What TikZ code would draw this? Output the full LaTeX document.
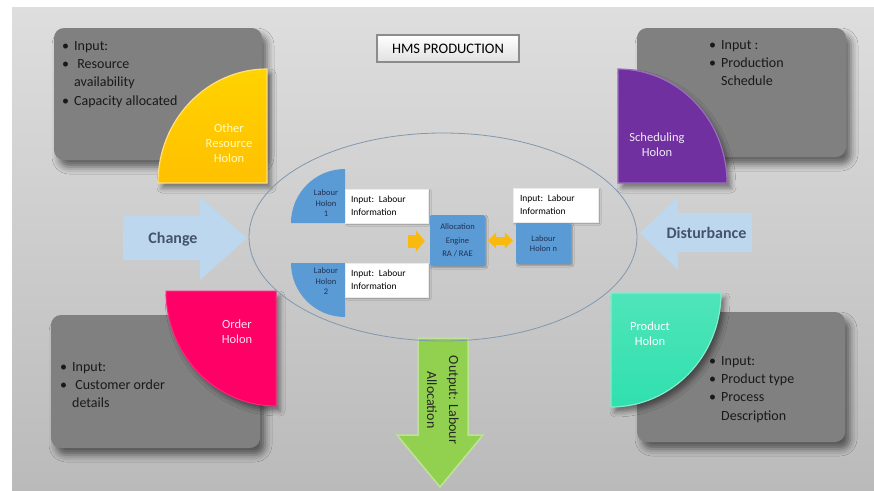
\documentclass[tikz,border=0pt]{standalone}
\usepackage{fontspec}
\setmainfont{Carlito}
\usetikzlibrary{arrows.meta,shadows.blur}

\definecolor{boxgray}{HTML}{808080}
\definecolor{holonyellow}{HTML}{FFC000}
\definecolor{holonpurple}{HTML}{7030A0}
\definecolor{holonpink}{HTML}{FF0066}
\definecolor{holonteal}{HTML}{30E0AE}
\definecolor{labourblue}{HTML}{5B9BD5}
\definecolor{labourtext}{HTML}{1F3050}
\definecolor{arrowblue}{HTML}{BDD7EE}
\definecolor{outgreen}{HTML}{92D050}
\definecolor{slatetext}{HTML}{44546A}
\definecolor{ringline}{HTML}{8397AE}
\definecolor{engineyellow}{HTML}{F8BA10}

\newcommand{\bul}{\makebox[12pt][l]{\textbullet}}
\newcommand{\ind}{\hspace*{12pt}}

\begin{document}
\begin{tikzpicture}[x=1pt,y=-1pt,
  inputbox/.style={fill=boxgray,rounded corners=10pt,inner sep=0pt,
    blur shadow={shadow xshift=5pt,shadow yshift=-7pt,shadow blur radius=7pt,shadow opacity=55}},
  holonshadow/.style={blur shadow={shadow xshift=4pt,shadow yshift=-5pt,shadow blur radius=5pt,shadow opacity=45}},
  bullets/.style={anchor=north west,align=left,inner sep=0pt,text=black!90,
    font=\fontsize{14}{18.3}\selectfont},
  holonlabel/.style={align=center,inner sep=0pt,font=\fontsize{12.5}{15}\selectfont},
  labourlabel/.style={align=center,inner sep=0pt,text=labourtext,font=\fontsize{8.5}{10.5}\selectfont},
  infobox/.style={fill=white,draw=black!8,minimum width=83pt,minimum height=34pt,
    text width=71pt,align=left,inner sep=0pt,font=\fontsize{9.5}{13}\selectfont,
    blur shadow={shadow xshift=1.5pt,shadow yshift=-1.5pt,shadow blur radius=1.5pt,shadow opacity=30}},
  bluebox/.style={fill=labourblue,rounded corners=2pt,align=center,text=labourtext,inner sep=0pt,
    blur shadow={shadow xshift=1.5pt,shadow yshift=-1.5pt,shadow blur radius=1.5pt,shadow opacity=30}},
  bigarrowtext/.style={text=slatetext,inner sep=0pt,font=\fontsize{16}{18}\selectfont\bfseries},
  fatarrow/.style={draw=engineyellow}
]
\useasboundingbox (0,0) rectangle (874,490);
\fill[white] (0,0) rectangle (874,490);
\shade[top color=black!13,middle color=black!3,bottom color=black!27] (12,7) rectangle (874,490);

% input boxes
\node[inputbox,minimum width=208pt,minimum height=132pt] (resbox) at (158,94) {};
\node[inputbox,minimum width=209pt,minimum height=129pt] (schedbox) at (741.5,92.5) {};
\node[inputbox,minimum width=209pt,minimum height=133pt] (orderbox) at (155.5,381.5) {};
\node[inputbox,minimum width=208pt,minimum height=130pt] (prodbox) at (741,377) {};

\node[bullets] (resin) at (62,41) {\bul Input:\\\bul\ Resource\\\ind availability\\\bul Capacity allocated};
\node[bullets] (schedin) at (709,40) {\bul Input :\\\bul Production\\\ind Schedule};
\node[bullets] (orderin) at (60,362) {\bul Input:\\\bul\ Customer order\\\ind details};
\node[bullets] (prodin) at (709,356) {\bul Input:\\\bul Product type\\\bul Process\\\ind Description};

% holons
\draw[holonshadow,top color=holonyellow!70!yellow,bottom color=holonyellow,draw=holonyellow!50!white,line width=1.2pt]
  (267,183) -- (158,183) arc[start angle=180,end angle=270,x radius=109,y radius=114] -- cycle;
\draw[holonshadow,fill=holonpurple,draw=holonpurple!70!white,line width=1.2pt]
  (618,183) -- (618,69) arc[start angle=270,end angle=360,x radius=109,y radius=114] -- cycle;
\draw[holonshadow,fill=holonpink,draw=holonpink!85!white,line width=1pt]
  (276,291) -- (166,291) arc[start angle=180,end angle=90,x radius=110,y radius=115] -- cycle;
\draw[holonshadow,top color=holonteal!85!white,bottom color=holonteal,draw=holonteal!60!white,line width=1.2pt]
  (611,293) -- (721,293) arc[start angle=0,end angle=90,x radius=110,y radius=114] -- cycle;

\node[holonlabel,text=yellow!25!white] (reslabel) at (229,143) {Other\\Resource\\Holon};
\node[holonlabel,text=holonpurple!10!white] (schedlabel) at (657,144.5) {Scheduling\\Holon};
\node[holonlabel,text=holonpink!12!white] (orderlabel) at (237,332) {Order\\Holon};
\node[holonlabel,text=white] (prodlabel) at (650,333.5) {Product\\Holon};

% side arrows
\fill[arrowblue] (123,216) -- (200,216) -- (200,197) -- (247,238) -- (200,280) -- (200,260) -- (123,260) -- cycle;
\node[bigarrowtext] (change) at (173,239) {Change};
\fill[arrowblue] (640,233) -- (678,197) -- (678,213) -- (752,213) -- (752,252) -- (678,252) -- (678,270) -- cycle;
\node[bigarrowtext] (disturb) at (706.5,233) {Disturbance};

\draw[fill=outgreen,draw=outgreen!60!white,line width=1.5pt]
  (418,338) -- (468,338) -- (468,435) -- (483,435) -- (440,487) -- (397,435) -- (418,435) -- cycle;
\node[rotate=-90,align=center,inner sep=0pt,text=black!85,font=\fontsize{14}{22}\selectfont] (output) at (443,400) {Output: Labour\\Allocation};

% production ring
\draw[ringline,line width=0.8pt] (443,237) circle[x radius=194,y radius=104];

\node[draw=black!45,line width=1.5pt,top color=white,bottom color=black!12,minimum width=142pt,minimum height=27pt,
  inner sep=0pt,font=\fontsize{14.5}{16}\selectfont] (title) at (448,48.5) {HMS PRODUCTION};

% labour holons
\fill[labourblue] (345,223) -- (291,223) arc[start angle=180,end angle=270,radius=54] -- cycle;
\fill[labourblue] (345,263) -- (291,263) arc[start angle=180,end angle=90,radius=54] -- cycle;
\node[labourlabel] (lh1) at (326,203.5) {Labour\\Holon\\1};
\node[labourlabel] (lh2) at (326,281.5) {Labour\\Holon\\2};

\node[infobox] (info1) at (386.5,206) {Input: Labour\\Information};
\node[infobox] (info2) at (386.5,280) {Input: Labour\\Information};
\node[infobox,minimum width=85pt] (info3) at (555.5,205) {Input: Labour\\Information};

\node[bluebox,minimum width=55pt,minimum height=51pt,font=\fontsize{8.5}{13.5}\selectfont] (engine) at (457.5,240.5) {Allocation\\Engine\\RA / RAE};
\node[bluebox,minimum width=55pt,minimum height=41pt,font=\fontsize{8.5}{10.5}\selectfont] (holonn) at (543.5,243.5) {Labour\\Holon n};

\coordinate (merge) at (408,241);
\draw[fatarrow,line width=13pt,-{Triangle[length=9pt,width=21pt]},shorten >=5pt] (merge) -- (merge -| engine.west);
\draw[fatarrow,line width=8pt,{Triangle[length=8pt,width=16pt]}-{Triangle[length=8pt,width=16pt]},shorten <=3pt,shorten >=3pt]
  (engine.east) -- (engine.east -| holonn.west);
\end{tikzpicture}
\end{document}
